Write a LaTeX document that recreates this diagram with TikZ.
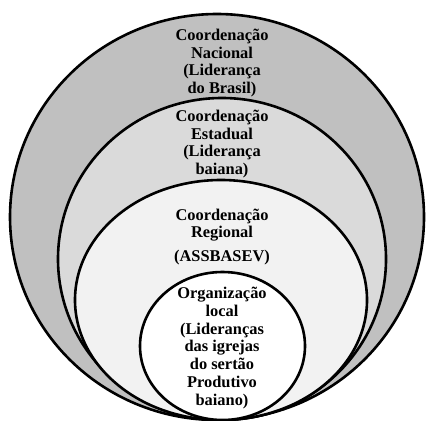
\documentclass[tikz,border=0pt]{standalone}
\usepackage{fontspec}
\setmainfont{Liberation Serif}
\begin{document}
\begin{tikzpicture}[x=1pt,y=-1pt,
  ring/.style={draw=black,line width=2.6pt},
  lbl/.style={font=\bfseries\fontsize{16.4}{17.7}\selectfont,align=center,inner sep=0pt,text=black}]
\useasboundingbox (0,0) rectangle (427,420);
\clip (0,0) rectangle (427,420);
\fill[white] (0,0) rectangle (427,420);
\draw[ring,fill={rgb,255:red,192;green,192;blue,192}] (217,217) ellipse [x radius=207,y radius=203];
\draw[ring,fill={rgb,255:red,218;green,218;blue,218}] (222,259) ellipse [x radius=164,y radius=161];
\draw[ring,fill={rgb,255:red,242;green,242;blue,242}] (221,300) ellipse [x radius=146,y radius=120];
\draw[ring,fill=white] (222.5,346) ellipse [x radius=82.5,y radius=74];
\node[lbl] (nac) at (222,63) {Coordenação\\Nacional\\(Liderança\\do Brasil)};
\node[lbl] (est) at (222,144) {Coordenação\\Estadual\\(Liderança\\baiana)};
\node[lbl] (reg) at (222,225) {Coordenação\\Regional};
\node[lbl] (ass) at (222,258) {(ASSBASEV)};
\node[lbl] (loc) at (222,348) {Organização\\local\\(Lideranças\\das igrejas\\do sertão\\Produtivo\\baiano)};
\end{tikzpicture}
\end{document}
